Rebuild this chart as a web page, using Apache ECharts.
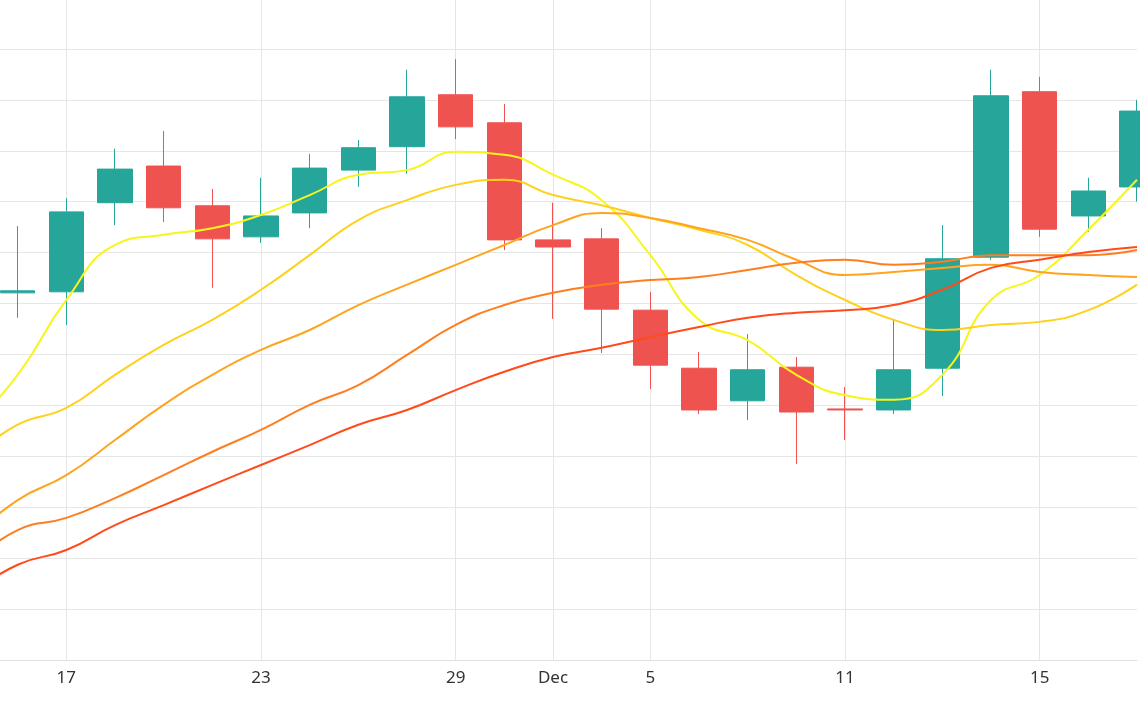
<!DOCTYPE html>
<html>
<head>
<meta charset="utf-8">
<script src="https://cdn.jsdelivr.net/npm/echarts@6/dist/echarts.min.js"></script>
<style>html,body{margin:0;padding:0;background:#fff}#main{width:1140px;height:710px}</style>
</head>
<body>
<div id="main"></div>
<script>
// 交易日 (2017-11-15 ~ 2017-12-19)
const dates = ['Nov 15','Nov 16','17','Nov 20','Nov 21','Nov 22','23','Nov 24','Nov 27','Nov 28','29','Nov 30','Dec','Dec 4','5','Dec 6','Dec 7','Dec 8','11','Dec 12','Dec 13','Dec 14','15','Dec 18','Dec 19']
const shown = [2, 6, 10, 12, 14, 18, 22]
// [open, close, low, high]
const candles = ['-',
  [72.1,72.5,67.2,85.2],[72.3,88.0,65.8,90.7],[89.8,96.4,85.4,100.4],[97.0,88.8,86.0,103.9],
  [89.2,82.7,73.1,92.5],[83.1,87.2,81.9,94.7],[87.8,96.6,84.8,99.4],[96.2,100.6,92.9,102.1],
  [100.8,110.6,95.5,115.9],[111.0,104.7,102.3,118.0],[105.5,82.5,80.5,109.2],[82.5,81.1,67.0,89.8],
  [82.7,68.9,60.3,84.8],[68.7,57.9,53.2,72.3],[57.3,49.1,48.3,60.5],[50.9,57.0,47.1,64.0],
  [57.5,48.7,38.5,59.5],[49.3,49.1,43.2,53.6],[49.1,57.0,48.3,67.0],[57.3,78.8,51.8,85.4],
  [79.1,110.8,78.6,115.9],[111.6,84.6,83.1,114.5],[87.2,92.1,84.1,94.7],[92.9,107.8,90.0,110.0]
]
const ma5 = [45.2,56.0,70.7,81.5,83.5,84.8,87.4,91.3,95.3,96.2,99.8,99.2,95.3,90.3,79.5,66.8,62.8,56.0,52.0,51.1,56.0,70.7,75.6,84.5,94.3]
const ma10 = [39.3,46.2,49.5,56.0,61.9,66.8,72.7,79.5,86.4,90.3,93.3,94.3,91.3,89.3,86.8,84.5,81.5,75.6,70.7,66.8,64.8,65.8,66.4,68.7,73.7]
const ma20 = [23.6,31.4,36.3,43.2,50.1,56.0,60.9,64.8,69.7,73.7,77.6,81.5,85.4,87.8,86.8,84.8,82.5,78.6,75.6,76.2,77.0,77.6,76.2,75.6,75.2]
const ma30 = [18.7,25.5,27.9,31.8,36.3,40.9,45.2,50.1,54.0,59.9,65.8,69.7,72.1,73.7,74.6,75.2,76.6,78.0,78.6,77.6,78.2,79.5,79.5,79.5,80.5]
const ma60 = [12.8,18.7,21.6,26.5,30.4,34.4,38.3,42.2,46.2,49.1,53.0,56.6,59.5,61.3,63.4,65.4,67.2,68.2,68.7,69.7,72.7,77.0,78.6,80.1,81.1]

;(function () {
  let mychart = echarts.init(document.getElementById('main'))
  let line = function (data, color) {
    return { type: 'line', data: data, smooth: 0.5, symbol: 'none', lineStyle: { color: color, width: 2 } }
  }
  let pick = function (i) { return shown.indexOf(i) >= 0 }
  let option = {
    animation: false,
    grid: { left: -31, right: 3, top: -2, bottom: 50, outerBoundsMode: 'none', containLabel: false },
    xAxis: {
      type: 'category',
      data: dates,
      boundaryGap: false,
      axisLine: { lineStyle: { color: '#e0e0e0' } },
      axisTick: { show: false },
      axisLabel: { interval: pick, color: '#333', fontSize: 17, margin: 10, fontFamily: 'Noto Sans' },
      splitLine: { show: true, interval: pick, lineStyle: { color: '#e6e6e6' } }
    },
    yAxis: {
      type: 'value', min: 0, max: 130, interval: 10,
      axisLabel: { show: false }, axisLine: { show: false }, axisTick: { show: false },
      splitLine: { lineStyle: { color: '#e6e6e6' } }
    },
    series: [
      {
        type: 'candlestick',
        data: candles,
        barWidth: 35,
        itemStyle: { color: '#26a69a', color0: '#ef5350', borderColor: '#26a69a', borderColor0: '#ef5350' }
      },
      line(ma5, '#f7f51c'),
      line(ma10, '#fdd11c'),
      line(ma20, '#ffa41f'),
      line(ma30, '#ff7e1f'),
      line(ma60, '#ff4a1a')
    ]
  }
  mychart.setOption(option)
})();
</script>
</body>
</html>
